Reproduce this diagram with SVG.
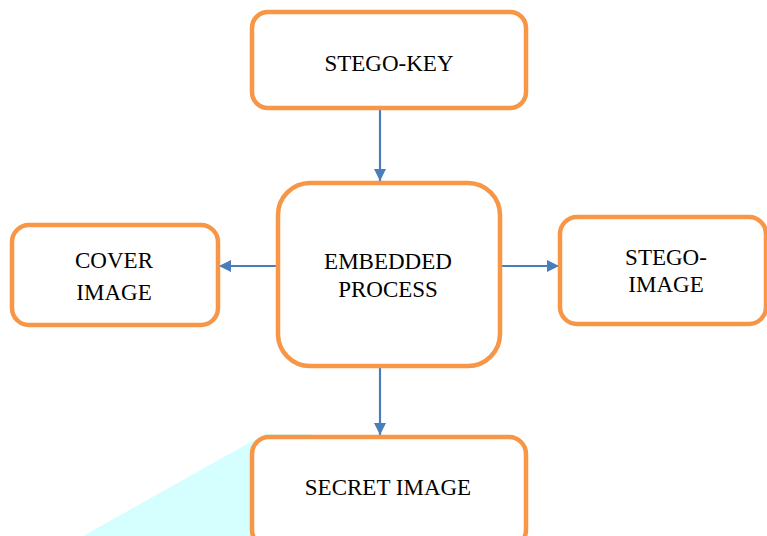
<svg xmlns="http://www.w3.org/2000/svg" width="767" height="536" viewBox="0 0 767 536">
  <style>
    .box { fill: #ffffff; stroke: #F79646; stroke-width: 4.5; }
    .lbl { font-family: "Liberation Serif", "Times New Roman", serif; font-size: 23px; fill: #000000; text-anchor: middle; }
    .conn { stroke: #4A7EBB; stroke-width: 2.2; fill: none; marker-end: url(#arrow); }
  </style>
  <defs>
    <marker id="arrow" markerWidth="12" markerHeight="12" refX="12" refY="6" orient="auto" markerUnits="userSpaceOnUse" viewBox="0 0 12 12">
      <path d="M0,0 L12,6 L0,12 Z" fill="#4A7EBB"/>
    </marker>
  </defs>
  <rect width="767" height="536" fill="#ffffff"/>

  <!-- cyan wedge behind the bottom box -->
  <polygon points="83,536 265,434 312,434 312,536" fill="#D5FFFF"/>

  <g id="connectors">
    <line class="conn" x1="380" y1="110" x2="380" y2="181"/>
    <line class="conn" x1="276" y1="266" x2="219" y2="266"/>
    <line class="conn" x1="502" y1="266" x2="559" y2="266"/>
    <line class="conn" x1="380" y1="368" x2="380" y2="435"/>
  </g>

  <g id="stego-key">
    <rect class="box" x="252" y="12" width="274" height="96" rx="16"/>
    <text class="lbl" x="389" y="71">STEGO-KEY</text>
  </g>

  <g id="cover-image">
    <rect class="box" x="12" y="225" width="206" height="100" rx="17"/>
    <text class="lbl" x="114" y="268">COVER</text>
    <text class="lbl" x="114" y="300">IMAGE</text>
  </g>

  <g id="embedded-process">
    <rect class="box" x="278" y="183" width="222" height="183" rx="32"/>
    <text class="lbl" x="388" y="269">EMBEDDED</text>
    <text class="lbl" x="388" y="297">PROCESS</text>
  </g>

  <g id="stego-image">
    <rect class="box" x="560" y="217" width="206" height="107" rx="17"/>
    <text class="lbl" x="666" y="265">STEGO-</text>
    <text class="lbl" x="666" y="292">IMAGE</text>
  </g>

  <g id="secret-image">
    <rect class="box" x="252" y="437" width="274" height="110" rx="17"/>
    <text class="lbl" x="388" y="495">SECRET IMAGE</text>
  </g>
</svg>
